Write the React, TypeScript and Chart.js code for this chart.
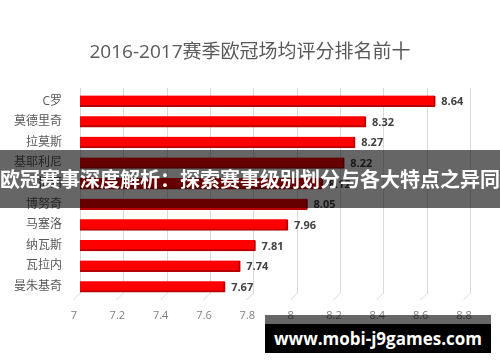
import React, { useEffect, useRef } from "react";
import { Chart, registerables } from "chart.js";

Chart.register(...registerables);

const titleText = "2016-2017赛季欧冠场均评分排名前十";
const players = ["C罗", "莫德里奇", "拉莫斯", "基耶利尼", "梅西", "博努奇", "马塞洛", "纳瓦斯", "瓦拉内", "曼朱基奇"];
const ratings = [8.64, 8.32, 8.27, 8.22, 8.12, 8.05, 7.96, 7.81, 7.74, 7.67];
const axisMin = 7;
const axisMax = 8.8;
const axisStep = 0.2;
const bannerText = "欧冠赛事深度解析：探索赛事级别划分与各大特点之异同";
const watermarkText = "www.mobi-j9games.com";

const FONT = "'Open Sans', 'Noto Sans CJK SC', sans-serif";

const gridPlugin = {
  id: "gridPlugin",
  beforeDatasetsDraw(chart: any) {
    const { ctx, scales } = chart;
    const x = scales.x;
    ctx.save();
    ctx.strokeStyle = "#d9d9d9";
    ctx.lineWidth = 1;
    x.ticks.forEach((t: any) => {
      const px = Math.round(x.getPixelForValue(t.value)) + 0.5;
      ctx.beginPath();
      ctx.moveTo(px, chart.chartArea.top - 3);
      ctx.lineTo(px, chart.chartArea.bottom - 4);
      ctx.lineTo(px - 7, chart.chartArea.bottom + 3);
      ctx.stroke();
    });
    ctx.restore();
  },
};

const valueLabelPlugin = {
  id: "valueLabelPlugin",
  afterDatasetsDraw(chart: any) {
    const { ctx } = chart;
    const meta = chart.getDatasetMeta(0);
    ctx.save();
    ctx.font = `bold 11px ${FONT}`;
    ctx.fillStyle = "#404040";
    ctx.textAlign = "left";
    ctx.textBaseline = "middle";
    meta.data.forEach((bar: any, i: number) => {
      ctx.fillText(ratings[i].toFixed(2), bar.x + 6, bar.y + 1);
    });
    ctx.restore();
  },
};

export default function App() {
  const canvasRef = useRef<HTMLCanvasElement | null>(null);

  useEffect(() => {
    if (!canvasRef.current) return;
    const chart = new Chart(canvasRef.current, {
      type: "bar",
      data: {
        labels: players,
        datasets: [
          {
            data: ratings,
            backgroundColor: "#ff0000",
            borderColor: "#b80000",
            borderWidth: { top: 0, right: 2, bottom: 2, left: 0 },
            borderSkipped: false,
            borderRadius: { topLeft: 3, bottomLeft: 3, topRight: 1, bottomRight: 1 },
            barThickness: 11,
          },
        ],
      },
      options: {
        indexAxis: "y",
        animation: false,
        responsive: false,
        maintainAspectRatio: false,
        layout: { padding: { left: 0, right: 0, top: 0, bottom: 0 } },
        plugins: {
          legend: { display: false },
          tooltip: { enabled: false },
          title: {
            display: true,
            text: titleText,
            color: "#595959",
            font: { family: FONT, size: 19, weight: "normal" },
            padding: { top: 41, bottom: 27 },
          },
        },
        scales: {
          x: {
            type: "linear",
            min: axisMin,
            max: axisMax,
            grid: { display: false, drawTicks: false },
            border: { display: false },
            ticks: {
              stepSize: axisStep,
              padding: 12,
              labelOffset: -6,
              color: "#7f7f7f",
              font: { family: FONT, size: 11 },
              callback: (v: any) => Number(Number(v).toFixed(1)).toString(),
            },
            afterFit: (s: any) => {
              s.height = 65;
            },
          },
          y: {
            grid: { display: false, drawTicks: false },
            border: { display: false },
            ticks: {
              padding: 18,
              color: "#595959",
              font: { family: FONT, size: 12 },
            },
            afterFit: (s: any) => {
              s.width = 80;
            },
          },
          yRight: {
            type: "linear",
            position: "right",
            display: true,
            grid: { display: false, drawTicks: false },
            border: { display: false },
            ticks: { display: false },
            afterFit: (s: any) => {
              s.width = 30;
            },
          },
        },
      },
      plugins: [gridPlugin, valueLabelPlugin],
    } as any);
    return () => chart.destroy();
  }, []);

  return (
    <div style={{ position: "fixed", left: 0, top: 0, width: 500, height: 362, background: "#ffffff", overflow: "hidden" }}>
      <canvas ref={canvasRef} width={500} height={362} style={{ display: "block", width: 500, height: 362 }} />
      <div
        style={{
          position: "absolute",
          left: 0,
          top: 150,
          width: 500,
          height: 58,
          background: "rgba(0,0,0,0.6)",
          color: "#ffffff",
          fontFamily: "'Noto Sans CJK SC', sans-serif",
          fontWeight: 700,
          fontSize: 20,
          lineHeight: "58px",
          textAlign: "center",
          whiteSpace: "nowrap",
          letterSpacing: 0,
        }}
      >
        {bannerText}
      </div>
      <div
        style={{
          position: "absolute",
          left: 265,
          top: 315,
          width: 226,
          height: 9,
          background: "rgba(0,0,0,0.6)",
        }}
      />
      <div
        style={{
          position: "absolute",
          left: 265,
          top: 324,
          width: 226,
          height: 29,
          background: "#000000",
          color: "#ffffff",
          fontFamily: "'Open Sans', sans-serif",
          fontWeight: 700,
          fontSize: 17,
          lineHeight: "29px",
          textAlign: "center",
          whiteSpace: "nowrap",
        }}
      >
        {watermarkText}
      </div>
    </div>
  );
}
